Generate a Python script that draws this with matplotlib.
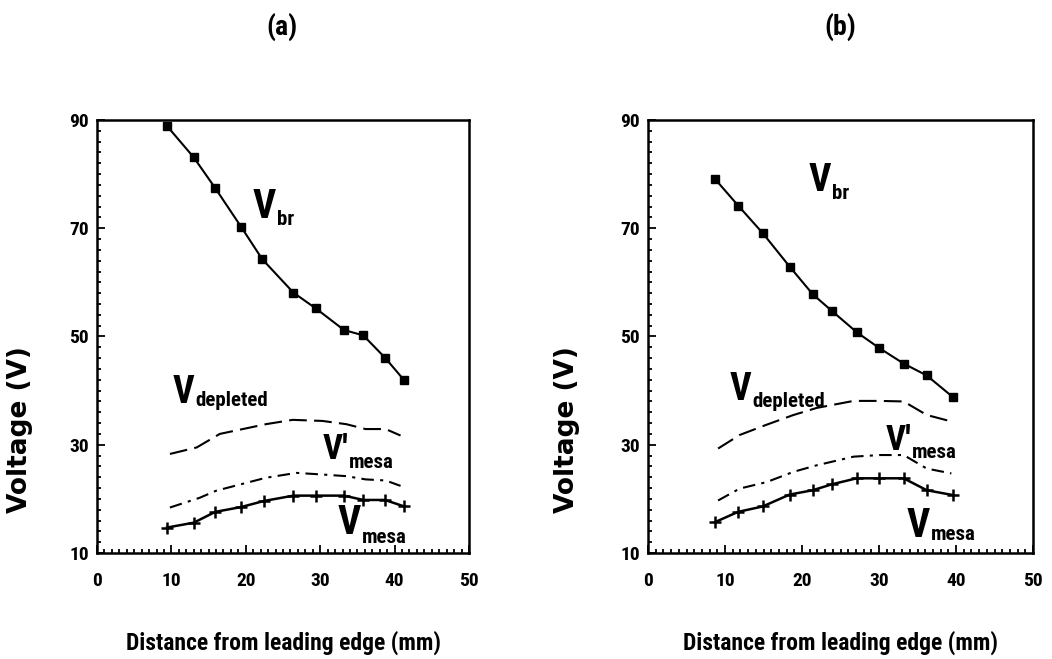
import matplotlib
matplotlib.use("Agg")
import matplotlib.pyplot as plt
from matplotlib.ticker import MultipleLocator
from matplotlib.transforms import IdentityTransform

COND = ['Liberation Sans Narrow', 'Roboto Condensed', 'DejaVu Sans Condensed', 'DejaVu Sans']
WIDE = ['DejaVu Sans']

# ---------------- data: panel (a) ----------------
a_x_br = [9.4, 13.0, 15.9, 19.4, 22.2, 26.4, 29.4, 33.2, 35.8, 38.7, 41.3]
a_v_br = [88.9, 83.1, 77.4, 70.2, 64.3, 58.1, 55.2, 51.2, 50.2, 46.1, 41.9]
a_x_mesa = [9.4, 13.0, 15.9, 19.4, 22.4, 26.4, 29.4, 33.2, 35.8, 38.7, 41.3]
a_v_mesa = [14.7, 15.6, 17.6, 18.5, 19.6, 20.6, 20.6, 20.6, 19.8, 19.8, 18.6]
a_x_dep = [9.8, 13.4, 16.5, 22.7, 26.3, 30.3, 33.5, 36.1, 38.8, 40.8]
a_v_dep = [28.3, 29.5, 32.0, 33.8, 34.6, 34.4, 33.8, 32.9, 32.9, 31.7]
a_x_mp = [9.8, 13.8, 16.0, 22.7, 26.8, 30.3, 33.5, 36.1, 38.8, 40.8]
a_v_mp = [18.4, 20.2, 21.5, 23.9, 24.8, 24.5, 24.2, 23.6, 23.4, 22.4]

# ---------------- data: panel (b) ----------------
b_x_br = [8.7, 11.7, 14.9, 18.4, 21.4, 23.9, 27.1, 30.0, 33.2, 36.2, 39.6]
b_v_br = [79.1, 74.2, 69.1, 62.9, 57.8, 54.7, 50.8, 47.9, 45.0, 42.8, 38.8]
b_x_mesa = [8.7, 11.7, 14.9, 18.4, 21.4, 23.9, 27.1, 30.0, 33.2, 36.2, 39.6]
b_v_mesa = [15.7, 17.6, 18.6, 20.8, 21.6, 22.7, 23.8, 23.8, 23.8, 21.6, 20.7]
b_x_dep = [9.1, 11.9, 15.4, 18.9, 21.9, 26.7, 30.1, 33.2, 36.2, 39.4]
b_v_dep = [29.3, 31.8, 33.7, 35.5, 36.8, 38.1, 38.1, 38.0, 35.5, 34.3]
b_x_mp = [9.1, 11.9, 15.4, 18.9, 21.9, 26.7, 30.1, 33.2, 36.2, 39.4]
b_v_mp = [19.7, 21.9, 23.1, 25.0, 26.2, 27.8, 28.1, 28.1, 25.6, 24.7]

x_ticks = [0, 10, 20, 30, 40, 50]
y_ticks = [10, 30, 50, 70, 90]
panel_titles = ['(a)', '(b)']
x_label = 'Distance from leading edge (mm)'
y_label = 'Voltage (V)'

# curve labels: (x, baseline y, main text, subscript, main size, subscript drop px)
a_labels = [(20.9, 71.9, 'V', 'br', 29, 7), (10.2, 37.8, 'V', 'depleted', 27, 3),
            (30.3, 27.4, "V'", 'mesa', 25, 9), (32.4, 13.5, 'V', 'mesa', 29, 9)]
b_labels = [(20.8, 76.9, 'V', 'br', 28, 8), (10.6, 38.3, 'V', 'depleted', 27, 7),
            (30.8, 29.0, "V'", 'mesa', 25, 8), (33.6, 12.9, 'V', 'mesa', 29, 3)]

fig = plt.figure(figsize=(10.52, 6.59), dpi=100)
ax_a = fig.add_axes([97/1052, 1-553/659, 372/1052, 433/659])
ax_b = fig.add_axes([648/1052, 1-553/659, 385/1052, 433/659])


def style(ax, ylx):
    ax.set_xlim(0, 50)
    ax.set_ylim(10, 90)
    ax.set_xticks(x_ticks)
    ax.set_yticks(y_ticks)
    ax.xaxis.set_minor_locator(MultipleLocator(1))
    ax.yaxis.set_minor_locator(MultipleLocator(2))
    ax.tick_params(which='both', direction='in', top=False, right=False, width=1.3)
    ax.tick_params(which='major', length=6)
    ax.tick_params(which='minor', length=3)
    ax.tick_params(axis='x', which='major', pad=14)
    ax.tick_params(axis='y', which='major', pad=6)
    for lab in ax.get_xticklabels() + ax.get_yticklabels():
        lab.set_family(COND)
        lab.set_fontweight('bold')
        lab.set_fontsize(14)
    for s in ax.spines.values():
        s.set_linewidth(1.8)
    ax.set_xlabel(x_label, family=COND, fontweight='bold', fontsize=17, labelpad=29)
    ax.set_ylabel(y_label, family=WIDE, fontweight='bold', fontsize=19)
    ax.yaxis.set_label_coords(ylx, 0.284)


def draw(ax, xbr, vbr, xm, vm, xd, vd, xp, vp):
    ax.plot(xbr, vbr, color='black', lw=1.5, marker='s', ms=5.5, mfc='black', mec='black')
    ax.plot(xm, vm, color='black', lw=1.8, marker='+', ms=9, mew=1.8)
    ax.plot(xd, vd, color='black', lw=1.5, dashes=(8.5, 3.5))
    ax.plot(xp, vp, color='black', lw=1.5, dashes=(6, 3, 1.5, 3))


draw(ax_a, a_x_br, a_v_br, a_x_mesa, a_v_mesa, a_x_dep, a_v_dep, a_x_mp, a_v_mp)
draw(ax_b, b_x_br, b_v_br, b_x_mesa, b_v_mesa, b_x_dep, b_v_dep, b_x_mp, b_v_mp)
style(ax_a, -0.172)
style(ax_b, -0.177)

fig.text(282/1052, 1-27/659, panel_titles[0], family=COND, fontweight='bold',
         fontsize=20, ha='center', va='center')
fig.text(840/1052, 1-27/659, panel_titles[1], family=COND, fontweight='bold',
         fontsize=20, ha='center', va='center')

fig.canvas.draw()
renderer = fig.canvas.get_renderer()


def put_labels(ax, labels):
    for (x, y, main, sub, size, drop) in labels:
        t = ax.text(x, y, main, family=COND, fontweight='bold', fontsize=size,
                    ha='left', va='baseline', color='black')
        bb = t.get_window_extent(renderer)
        px, py = ax.transData.transform((x, y))
        fig.text(bb.x1 + 1, py - drop, sub, family=COND, fontweight='bold', fontsize=15,
                 ha='left', va='baseline', transform=IdentityTransform())


put_labels(ax_a, a_labels)
put_labels(ax_b, b_labels)

fig.savefig('out.png', dpi=100)
